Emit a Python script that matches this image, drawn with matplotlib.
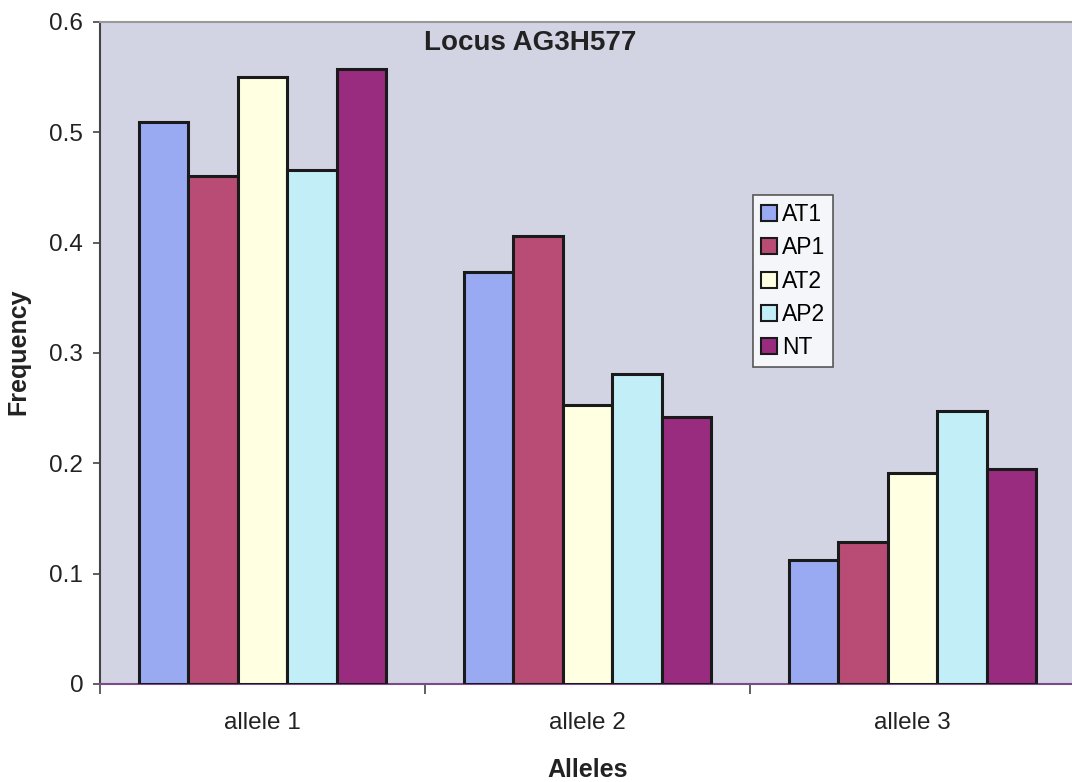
import matplotlib
matplotlib.use("Agg")
import matplotlib.pyplot as plt
import numpy as np

categories = ["allele 1", "allele 2", "allele 3"]
series_names = ["AT1", "AP1", "AT2", "AP2", "NT"]
AT1 = [0.509, 0.373, 0.112]
AP1 = [0.460, 0.406, 0.129]
AT2 = [0.550, 0.253, 0.191]
AP2 = [0.466, 0.281, 0.247]
NT = [0.557, 0.242, 0.195]
series_values = [AT1, AP1, AT2, AP2, NT]
colors = ["#9AAAF2", "#B84C74", "#FFFFE2", "#C2EEF8", "#9A2C80"]
yticks = [0, 0.1, 0.2, 0.3, 0.4, 0.5, 0.6]

plt.rcParams['font.family'] = ['Liberation Sans', 'DejaVu Sans']

W, H = 1072, 782
fig = plt.figure(figsize=(W/100, H/100), dpi=100)
fig.patch.set_facecolor("white")
ax = fig.add_axes([100/W, (H-684)/H, 975/W, 662/H])
ax.set_facecolor("#D2D3E3")

x = np.arange(len(categories))
bw = 0.1526
n = len(series_names)
for i, (name, vals, c) in enumerate(zip(series_names, series_values, colors)):
    ax.bar(x + (i - (n-1)/2)*bw, vals, width=bw, color=c, edgecolor="#1a1a1a",
           linewidth=2.2, label=name, zorder=3)

ax.set_xlim(-0.5, 2.5)
ax.set_ylim(0, 0.6)
ax.set_yticks(yticks)
ax.set_yticklabels([("0" if v == 0 else f"{v:.1f}") for v in yticks], fontsize=17.5, color="#222222")
ax.set_xticks(x)
ax.set_xticklabels(categories, fontsize=17.5, color="#222222")
ax.tick_params(axis='x', which='major', length=0, pad=20)
ax.set_xticks([-0.5, 0.5, 1.5], minor=True)
ax.tick_params(axis='x', which='minor', length=7, width=1.2, color="#444444", direction='out')
ax.tick_params(axis='y', length=5, width=1.2, color="#444444", direction='out', pad=7)

ax.spines['right'].set_visible(False)
ax.spines['top'].set_color("#999999")
ax.spines['top'].set_linewidth(1.5)
ax.spines['left'].set_color("#444444")
ax.spines['left'].set_linewidth(1.5)
ax.spines['bottom'].set_color("#7a4a8a")
ax.spines['bottom'].set_linewidth(1.5)

ax.set_ylabel("Frequency", fontsize=18, fontweight='bold', color="#222222",
              ha='center', va='center')
ax.yaxis.set_label_coords((18-100)/975, (684-352)/662)
ax.set_xlabel("Alleles", fontsize=18, fontweight='bold', color="#222222",
              ha='center', va='center')
ax.xaxis.set_label_coords((588-100)/975, (684-770)/662)
ax.text((530-100)/975, (684-43)/662, "Locus AG3H577", transform=ax.transAxes, fontsize=20,
        fontweight='bold', ha='center', va='center', color="#222222")

leg = ax.legend(loc='upper left', bbox_to_anchor=((753-100)/975, (684-195)/662),
                fontsize=16.5, frameon=True, fancybox=False, handlelength=0.7,
                handleheight=0.7, handletextpad=0.2, labelspacing=0.45,
                borderpad=0.35, borderaxespad=0)
leg.get_frame().set_edgecolor("#333333")
leg.get_frame().set_linewidth(1.2)
leg.get_frame().set_facecolor("white")
for h in leg.legend_handles:
    h.set_linewidth(1.5)

fig.savefig("out.png", dpi=100)
